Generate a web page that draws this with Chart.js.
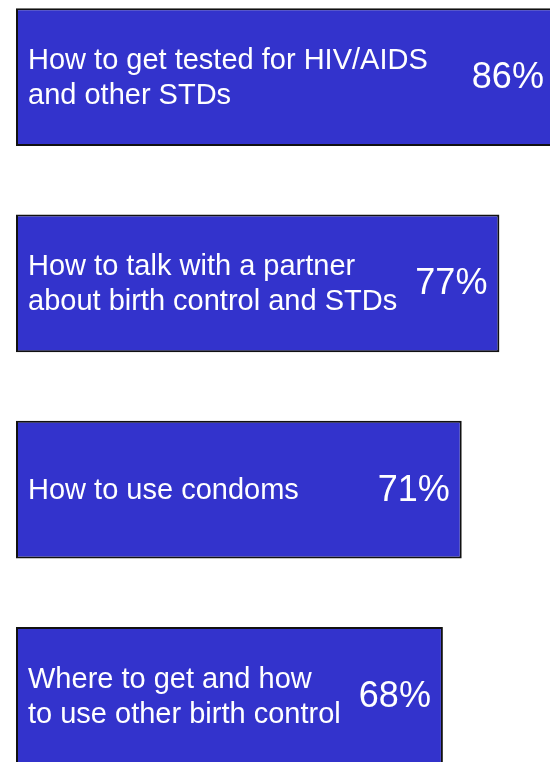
<!DOCTYPE html>
<html>
<head>
<meta charset="utf-8">
<script src="https://cdn.jsdelivr.net/npm/chart.js@4/dist/chart.umd.min.js"></script>
<style>
  html, body { margin: 0; padding: 0; background: #fff; overflow: hidden; }
  body { width: 550px; height: 762px; position: relative; }
  #wrap { position: absolute; left: 0; top: -26px; width: 581px; height: 825px; }
</style>
</head>
<body>
<div id="wrap"><canvas id="chart"></canvas></div>
<script>
const topics = [
    ["How to get tested for HIV/AIDS", "and other STDs"],
    ["How to talk with a partner", "about birth control and STDs"],
    ["How to use condoms"],
    ["Where to get and how", "to use other birth control"]
];
const percents = [86, 77, 71, 68];

// 막대 안에 글자 그리기
const barText = {
    id: "barText",
    afterDatasetsDraw(chart) {
        const ctx = chart.ctx;
        const bars = chart.getDatasetMeta(0).data;
        ctx.save();
        ctx.fillStyle = "#ffffff";
        bars.forEach((bar, i) => {
            const lines = topics[i];
            ctx.font = "29px 'Liberation Sans', Arial, sans-serif";
            ctx.textAlign = "left";
            ctx.textBaseline = "alphabetic";
            const mid = bar.y - 1;
            lines.forEach((line, j) => {
                const c = mid + (j - (lines.length - 1) / 2) * 35;
                ctx.fillText(line, bar.base + 12, c + 10.4);
            });
            ctx.font = "36px 'Liberation Sans', Arial, sans-serif";
            ctx.textAlign = "right";
            ctx.fillText(percents[i] + "%", bar.x - 12, bar.y - 2 + 12.9);
        });
        ctx.restore();
    }
};

new Chart(document.getElementById("chart"), {
    type: "bar",
    data: {
        labels: topics.map(t => t.join(" ")),
        datasets: [{
            data: percents,
            backgroundColor: "#3333cc",
            borderColor: "#111111",
            borderWidth: 2,
            borderSkipped: false,
            categoryPercentage: 1,
            barPercentage: 0.669
        }]
    },
    options: {
        indexAxis: "y",
        responsive: true,
        maintainAspectRatio: false,
        animation: false,
        layout: { padding: { left: 16, right: 0, top: 0, bottom: 0 } },
        plugins: { legend: { display: false }, tooltip: { enabled: false } },
        scales: {
            x: { display: false, min: 0, max: 90 },
            y: { display: false }
        }
    },
    plugins: [barText]
});
</script>
</body>
</html>
